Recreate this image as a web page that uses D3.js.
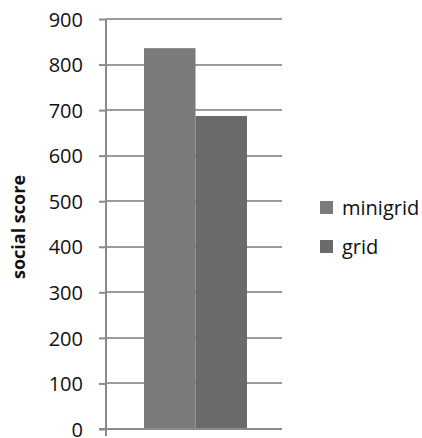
<!DOCTYPE html>
<html>
<head>
<meta charset="utf-8">
<script src="https://cdn.jsdelivr.net/npm/d3@7"></script>
<style>
  html, body { margin: 0; padding: 0; background: #fff; }
  svg { display: block; font-family: "Open Sans", "DejaVu Sans", sans-serif; }
</style>
</head>
<body>
<svg id="chart" width="422" height="438"></svg>
<script>
// Series shown as side-by-side bars in one group
const seriesNames = ["minigrid", "grid"];
const seriesValues = [836, 687];
const seriesColors = ["#7b7b7b", "#6a6a6a"];
const yTicks = [0, 100, 200, 300, 400, 500, 600, 700, 800, 900];
const yTitle = "social score";

const svg = d3.select("#chart");
const plot = { left: 106, right: 282, top: 19, bottom: 429 };

const y = d3.scaleLinear().domain([0, 900]).range([plot.bottom, plot.top]);
const x = d3.scaleBand().domain(seriesNames).range([144, 247]).padding(0);

// Horizontal gridlines
svg.append("g")
  .selectAll("line")
  .data(yTicks.filter(d => d > 0))
  .join("line")
  .attr("x1", plot.left).attr("x2", plot.right)
  .attr("y1", d => Math.round(y(d))).attr("y2", d => Math.round(y(d)))
  .attr("stroke", "#9a9a9a").attr("stroke-width", 2);

// Bars
svg.append("g")
  .selectAll("rect")
  .data(seriesNames.map((n, i) => ({ name: n, value: seriesValues[i], color: seriesColors[i] })))
  .join("rect")
  .attr("x", d => x(d.name))
  .attr("width", x.bandwidth())
  .attr("y", d => y(d.value))
  .attr("height", d => plot.bottom - y(d.value))
  .attr("fill", d => d.color);

// Y axis with outward ticks
const yAxis = d3.axisLeft(y).tickValues(yTicks).tickSize(7).tickPadding(16).tickFormat(d3.format("d"));
const gy = svg.append("g").attr("transform", `translate(${plot.left},0)`).call(yAxis);
gy.attr("font-size", null).attr("font-family", null);
gy.select(".domain").attr("stroke", "#8a8a8a").attr("stroke-width", 2).attr("d", `M0,${plot.top}V${plot.bottom + 7}`);
gy.selectAll(".tick line").attr("stroke", "#8a8a8a").attr("stroke-width", 2);
gy.selectAll(".tick text").style("font-size", "20px").attr("fill", "#111").attr("dy", "0.36em");

// X axis baseline
svg.append("line")
  .attr("x1", plot.left - 7).attr("x2", plot.right)
  .attr("y1", plot.bottom).attr("y2", plot.bottom)
  .attr("stroke", "#8a8a8a").attr("stroke-width", 2);

// Y axis title
svg.append("text")
  .attr("transform", `translate(25,227) rotate(-90)`)
  .attr("text-anchor", "middle")
  .style("font-size", "18px").attr("font-weight", "bold").attr("fill", "#111")
  .text(yTitle);

// Legend
const legend = svg.append("g").attr("transform", "translate(320,201)");
const items = legend.selectAll("g")
  .data(seriesNames.map((n, i) => ({ name: n, color: seriesColors[i] })))
  .join("g")
  .attr("transform", (d, i) => `translate(0,${i * 39})`);
items.append("rect").attr("width", 13).attr("height", 13).attr("fill", d => d.color);
items.append("text").attr("x", 22).attr("y", 14).style("font-size", "20px").attr("fill", "#111").text(d => d.name);
</script>
</body>
</html>
